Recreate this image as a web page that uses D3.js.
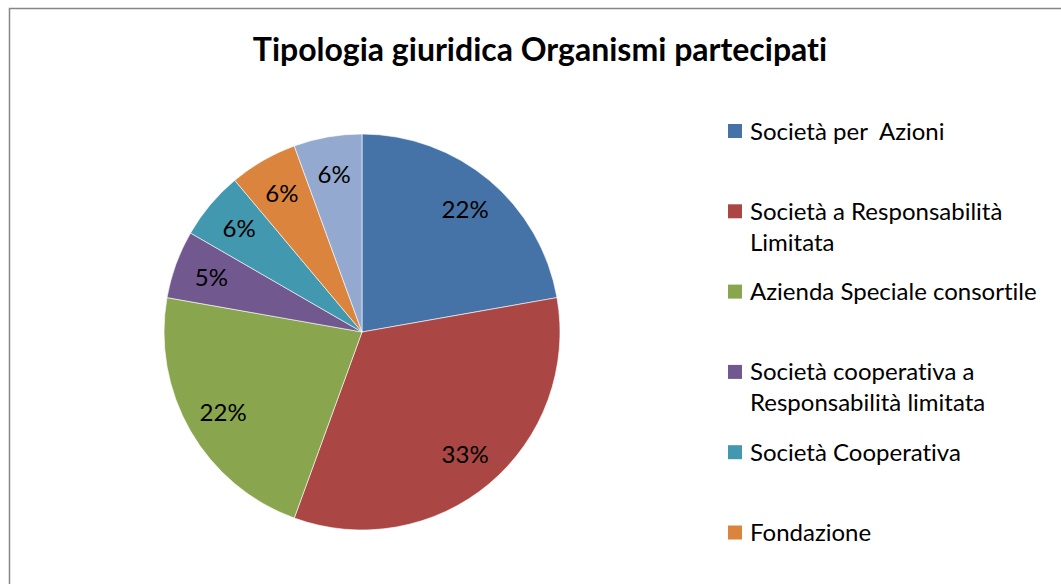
<!DOCTYPE html>
<html>
<head>
<meta charset="utf-8">
<script src="https://cdn.jsdelivr.net/npm/d3@7"></script>
<style>
  html, body { margin: 0; padding: 0; background: #fff; }
  svg { display: block; }
  text { font-variant-ligatures: none; white-space: pre; }
</style>
</head>
<body>
<div class="chart"></div>
<script>
// data
const categories = [
  'Società per  Azioni',
  'Società a Responsabilità|Limitata',
  'Azienda Speciale consortile',
  'Società cooperativa a|Responsabilità limitata',
  'Società Cooperativa',
  'Fondazione',
  'Altro'
];
const values = [4, 6, 4, 1, 1, 1, 1];
const labels = ['22%', '33%', '22%', '5%', '6%', '6%', '6%'];
const colors = ['#4572A7', '#AA4643', '#89A54E', '#71588F', '#4198AF', '#DB843D', '#93A9CF'];

const width = 1061, height = 584;
const cx = 362, cy = 332, radius = 198;

const svg = d3.select('div.chart')
  .append('svg')
    .attr('width', width)
    .attr('height', height);

// chart area border (runs off the right and bottom of the picture)
svg.append('rect')
  .attr('x', 9.5)
  .attr('y', 8.5)
  .attr('width', width + 20)
  .attr('height', height + 20)
  .attr('fill', 'none')
  .attr('stroke', '#868686')
  .attr('stroke-width', 1.5);

svg.append('text')
  .attr('x', 540)
  .attr('y', 61)
  .attr('text-anchor', 'middle')
  .attr('font-family', 'Lato, sans-serif')
  .attr('font-weight', 'bold')
  .attr('font-size', 32)
  .attr('fill', '#000')
  .text('Tipologia giuridica Organismi partecipati');

const data = categories.map((c, i) => ({ name: c, value: values[i], label: labels[i], color: colors[i] }));

const pie = d3.pie()
  .sort(null)
  .value(d => d.value);

const arc = d3.arc()
  .innerRadius(0)
  .outerRadius(radius);

const labelArc = d3.arc()
  .innerRadius(radius * 0.81)
  .outerRadius(radius * 0.81);

const plot = svg.append('g')
  .attr('transform', 'translate(' + cx + ',' + cy + ')');

const slices = pie(data);

plot.selectAll('path.slice')
  .data(slices)
  .enter()
  .append('path')
    .attr('class', 'slice')
    .attr('d', arc)
    .attr('fill', d => d.data.color)
    .attr('stroke', '#fff')
    .attr('stroke-width', 0.6);

plot.selectAll('text.pct')
  .data(slices)
  .enter()
  .append('text')
    .attr('class', 'pct')
    .attr('transform', d => 'translate(' + labelArc.centroid(d) + ')')
    .attr('dy', 8.5)
    .attr('text-anchor', 'middle')
    .attr('font-family', 'Lato, sans-serif')
    .attr('font-size', 24)
    .attr('fill', '#000')
    .text(d => d.data.label);

// legend, entries spread evenly down the right side
const legendY = d3.scaleLinear()
  .domain([0, 1])
  .range([131, 211.3]);

const legend = svg.selectAll('g.legend')
  .data(data.filter((d, i) => legendY(i) < height))
  .enter()
  .append('g')
    .attr('class', 'legend')
    .attr('transform', (d, i) => 'translate(728,' + legendY(i) + ')');

legend.append('rect')
  .attr('x', 0)
  .attr('y', -7)
  .attr('width', 14)
  .attr('height', 14)
  .attr('fill', d => d.color);

legend.append('text')
  .attr('font-family', 'Lato, sans-serif')
  .attr('font-size', 24)
  .attr('fill', '#000')
  .selectAll('tspan')
  .data(d => d.name.split('|'))
  .enter()
  .append('tspan')
    .attr('x', 22)
    .attr('y', (d, i) => 8.5 + i * 31)
    .text(d => d);
</script>
</body>
</html>
